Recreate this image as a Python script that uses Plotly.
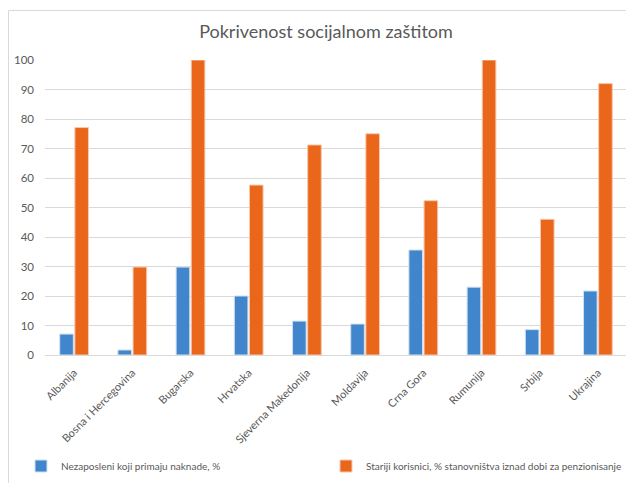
import plotly.graph_objects as go

categories = ["Albanija", "Bosna i Hercegovina", "Bugarska", "Hrvatska", "Sjeverna Makedonija",
              "Moldavija", "Crna Gora", "Rumunija", "Srbija", "Ukrajina"]
unemployed = [7.1, 1.7, 29.8, 20.0, 11.5, 10.5, 35.6, 23.0, 8.6, 21.7]
elderly = [77.1, 29.8, 100.0, 57.6, 71.2, 75.0, 52.3, 100.0, 46.0, 92.0]
name_unemployed = "Nezaposleni koji primaju naknade, %"
name_elderly = "Stariji korisnici, % stanovništva iznad dobi za penzionisanje"
yticks = [0, 10, 20, 30, 40, 50, 60, 70, 80, 90, 100]

W, H = 634, 483
L, R, T, B = 37, 15, 52, 136
PW, PH = W - L - R, H - T - B

fig = go.Figure()
fig.add_trace(go.Bar(x=categories, y=unemployed, name=name_unemployed, legend="legend",
                     marker=dict(color="#4186cc", line=dict(color="#cfe0f2", width=1))))
fig.add_trace(go.Bar(x=categories, y=elderly, name=name_elderly, legend="legend2",
                     marker=dict(color="#e9661a", line=dict(color="#f6c9ae", width=1))))

legend_common = dict(orientation="h", xref="container", xanchor="left",
                     yref="container", y=1 - 458 / H, yanchor="middle",
                     font=dict(size=10, color="#595959"), itemwidth=30,
                     bgcolor="rgba(0,0,0,0)")

fig.update_layout(
    width=W, height=H,
    margin=dict(l=L, r=R, t=T, b=B),
    paper_bgcolor="white", plot_bgcolor="white",
    font=dict(family="Lato, Carlito, sans-serif", color="#595959", size=11),
    title=dict(text="Pokrivenost socijalnom zaštitom", x=(L + PW / 2 - 10) / W, xanchor="center",
               xref="container",
               y=1 - 24 / H, yanchor="middle", automargin=False,
               font=dict(size=18, color="#595959")),
    barmode="group", bargap=0.48, bargroupgap=0.1,
    showlegend=True,
    legend=dict(legend_common, x=13 / W),
    legend2=dict(legend_common, x=318 / W),
    xaxis=dict(tickangle=-45, showgrid=False, showline=True, linecolor="#d9d9d9",
               ticks="", ticklabelstandoff=6, automargin=False,
               tickfont=dict(size=11, color="#595959")),
    yaxis=dict(range=[0, 100], tickvals=yticks, showgrid=True, gridcolor="#d9d9d9",
               zeroline=False, showline=False, ticks="", ticklabelstandoff=10,
               automargin=False, tickfont=dict(size=11.5, color="#595959")),
    shapes=[dict(type="rect", xref="paper", yref="paper",
                 x0=(0.5 - L) / PW, x1=1.3, y0=-0.8, y1=(PH + T - 2.5) / PH,
                 line=dict(color="#d9d9d9", width=1), layer="below")],
)

fig.write_html("out.html")
